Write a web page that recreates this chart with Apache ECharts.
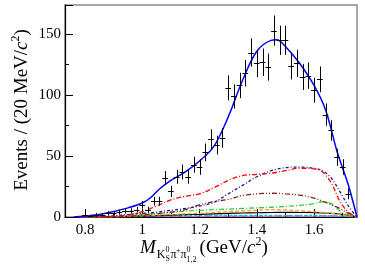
<!DOCTYPE html>
<html>
<head>
<meta charset="utf-8">
<script src="https://cdn.jsdelivr.net/npm/echarts@6/dist/echarts.min.js"></script>
<style>
html,body{margin:0;padding:0;background:#fff;}
#c{width:365px;height:265px;}
</style>
</head>
<body>
<div id="c"></div>
<script>
// ---- data ----
const binCenters = [0.80,0.82,0.84,0.86,0.88,0.90,0.92,0.94,0.96,0.98,1.00,1.02,1.04,1.06,1.08,1.10,1.12,1.14,1.16,1.18,1.20,1.22,1.24,1.26,1.28,1.30,1.32,1.34,1.36,1.38,1.40,1.42,1.44,1.46,1.48,1.50,1.52,1.54,1.56,1.58,1.60,1.62,1.64,1.66,1.68,1.70,1.72];
const counts = [2,1,2,2,3,3,4,5,5,6,10,6,13,13,32,21,33,37,33,43,41,53,64,59,65,106,99,108,118,135,126,127,123,153,145,145,124,126,115,116,104,113,84,71,49,41,19];
const errors = [1.4,1,1.4,1.4,1.7,1.7,2,2.2,2.2,2.4,3.2,2.4,3.6,3.6,5.7,4.6,5.7,6.1,5.7,6.6,6.4,7.3,8,7.7,8.1,10.3,9.9,10.4,10.9,11.6,11.2,11.3,11.1,12.4,12,12,11.1,11.2,10.7,10.8,10.2,10.6,9.2,8.4,7,6.4,4.4];

const totalX = [0.76,0.80,0.85,0.90,0.95,1.00,1.03,1.06,1.10,1.15,1.20,1.25,1.30,1.35,1.40,1.45,1.47,1.50,1.55,1.60,1.64,1.68,1.70,1.72,1.74,1.75];
const totalY = [0,0.8,2,4.5,7.5,11.5,16,23,30,37,46,58,82,112,136,145,145.5,140,126,108,88,54,40,26,9,0];

const compX = [0.78,0.85,0.90,0.95,1.00,1.05,1.10,1.15,1.20,1.25,1.30,1.35,1.40,1.45,1.50,1.55,1.60,1.63,1.66,1.69,1.72,1.75];
const redY     = [0,0.2,0.5,1.5,4.5,9,14,17,19,24,30,34,35,36,38,40,39.5,37,28,13,4,0];
const navyY    = [0,0.5,1,2,3,4,5.5,7,9,12,19,26,33,38,40.5,41,40,38,32,21,9,0];
const darkRedY = [0,0.1,0.3,0.6,1.5,2.7,4,6,10,12.5,14.5,17.5,19,19.5,19,18,15.5,13,10,7,3,0];
const greenY   = [0,0.3,0.7,1.5,2.2,3,3.8,4.8,5.5,6,6.5,7,7.5,8,8.7,9.5,11,12.5,11,5,1.5,0];
const orangeY  = [0,0.1,0.3,0.6,1,1.5,2,2.5,3,3.7,4.5,5,5.5,6,5.8,5,4.3,3.8,3,2.2,1.2,0];
const blackY   = [0,0.1,0.3,0.5,0.8,1.1,1.5,1.9,2.2,2.6,3,3.3,3.5,3.7,3.8,3.7,3.6,3.3,2.9,2.3,1.4,0];
const cyanY    = [0,0.1,0.3,0.5,0.8,0.9,1,1.1,1.2,1.2,1.3,1.3,1.3,1.3,1.3,1.2,1.2,1.1,1,0.8,0.5,0];
const magentaY = [0,0,0.1,0.2,0.3,0.4,0.5,0.6,0.6,0.7,0.7,0.8,0.8,0.8,0.9,0.9,1,1,0.9,0.7,0.4,0];

const xTicks = [0.8,1.0,1.2,1.4,1.6];
const xMinorTicks = [0.9,1.1,1.3,1.5,1.7];
const yTicks = [0,50,100,150];

// ---- helpers ----
const FONT = '"Liberation Serif","Times New Roman",serif';
const zip = (xs, ys) => xs.map((x, i) => [x, ys[i]]);
const mctx = document.createElement('canvas').getContext('2d');
function measure(t, size, italic) {
  mctx.font = (italic ? 'italic ' : '') + size + 'px "Liberation Serif"';
  return mctx.measureText(t).width;
}
// pieces: {t,size,italic,dy,stack(bool: does not advance)}
function buildPieces(pieces) {
  const out = [];
  let x = 0;
  for (const p of pieces) {
    const w = measure(p.t, p.size, p.italic);
    out.push({
      type: 'text',
      x: x + (p.dx || 0),
      y: (p.dy || 0) - 0.3375 * p.size,
      style: {
        text: p.t,
        fill: '#000',
        font: (p.italic ? 'italic ' : '') + p.size + 'px ' + FONT,
        verticalAlign: 'middle',
        align: 'left'
      }
    });
    if (!p.stack) x += w + (p.gap || 0);
  }
  return { children: out, width: x };
}

const xt = buildPieces([
  {t:'M', size:19, italic:true, gap:1},
  {t:'K', size:12, dy:5},
  {t:'0', size:8, dy:-1, stack:true},
  {t:'S', size:8, dy:8},
  {t:'π', size:12, dy:5, dx:0.5},
  {t:'+', size:8, dy:0},
  {t:'π', size:12, dy:5},
  {t:'0', size:8, dy:-1, stack:true},
  {t:'1,2', size:8, dy:9, gap:3},
  {t:'(GeV/', size:19},
  {t:'c', size:19, italic:true},
  {t:'2', size:12, dy:-8},
  {t:')', size:19}
]);
const yt = buildPieces([
  {t:'Events / (20 MeV/', size:19},
  {t:'c', size:19, italic:true},
  {t:'2', size:12, dy:-8},
  {t:')', size:19}
]);

function curve(name, xs, ys, color, type, width) {
  return {
    name, type: 'line', data: zip(xs, ys), smooth: 0.35, showSymbol: false, symbol: 'none',
    silent: true, animation: false, z: 3,
    lineStyle: { color, type, width: width || 1.2 }
  };
}

const chart = echarts.init(document.getElementById('c'), null, { renderer: 'canvas' });
chart.setOption({
  animation: false,
  backgroundColor: '#fff',
  grid: { left: 65, right: 8, top: 5, bottom: 48, show: true, borderColor: '#8c8c8c', borderWidth: 1.5, backgroundColor: 'transparent' },
  xAxis: [{
    type: 'value', min: 0.73, max: 1.75,
    axisLine: { show: true, onZero: false, lineStyle: { color: '#000', width: 1.2 } },
    axisTick: { show: true, inside: true, length: 8, customValues: xTicks, lineStyle: { color: '#000' } },
    axisLabel: { customValues: xTicks, margin: 6, color: '#000', fontFamily: FONT, fontSize: 15,
      formatter: v => String(+(+v).toFixed(1)) },
    splitLine: { show: false }
  }, {
    type: 'value', min: 0.73, max: 1.75, position: 'bottom',
    axisLine: { show: false },
    axisTick: { show: true, inside: true, length: 4, customValues: xMinorTicks, lineStyle: { color: '#000' } },
    axisLabel: { show: false },
    splitLine: { show: false }
  }],
  yAxis: {
    type: 'value', min: 0, max: 174, interval: 50,
    axisLine: { show: true, lineStyle: { color: '#000', width: 1.2 } },
    axisTick: { show: true, inside: true, length: 8, lineStyle: { color: '#000' } },
    minorTick: { show: true, splitNumber: 2, length: 4, lineStyle: { color: '#000' } },
    axisLabel: { margin: 4, color: '#000', fontFamily: FONT, fontSize: 15, showMaxLabel: false },
    splitLine: { show: false }
  },
  graphic: [
    { type: 'group', x: 140, y: 254, children: xt.children, silent: true },
    { type: 'group', x: 28, y: 110 + yt.width / 2, rotation: Math.PI / 2, children: yt.children, silent: true }
  ],
  series: [
    curve('magenta', compX, magentaY, '#ff00ff', [4,2,1,2], 1.2),
    curve('cyan', compX, cyanY, '#00cccc', [3,2], 1.5),
    curve('black', compX, blackY, '#000000', 'solid', 1.2),
    curve('orange', compX, orangeY, '#ff9933', [4,2], 1.3),
    curve('green', compX, greenY, '#33cc33', [5,2,1,2], 1.3),
    curve('darkred', compX, darkRedY, '#8b1a1a', [5,2,1,2,1,2], 1.3),
    curve('navy', compX, navyY, '#1a1a99', [3,2,1,2], 1.3),
    curve('red', compX, redY, '#ff0000', [5,2,1,2], 1.3),
    curve('total', totalX, totalY, '#0000ff', 'solid', 1.5),
    {
      type: 'custom', name: 'data', z: 5, clip: true,
      data: binCenters.map((x, i) => [x, counts[i], errors[i]]),
      renderItem: (params, api) => {
        const x = api.value(0), y = api.value(1), e = api.value(2);
        const lo = api.coord([x, Math.max(0, y - e)]);
        const hi = api.coord([x, y + e]);
        const l = api.coord([x - 0.01, y]);
        const r = api.coord([x + 0.01, y]);
        const st = { stroke: '#000', lineWidth: 1 };
        return { type: 'group', children: [
          { type: 'line', shape: { x1: Math.round(lo[0]) + 0.5, y1: lo[1], x2: Math.round(hi[0]) + 0.5, y2: hi[1] }, style: st },
          { type: 'line', shape: { x1: l[0], y1: Math.round(l[1]) + 0.5, x2: r[0], y2: Math.round(r[1]) + 0.5 }, style: st }
        ]};
      }
    }
  ]
});
</script>
</body>
</html>
